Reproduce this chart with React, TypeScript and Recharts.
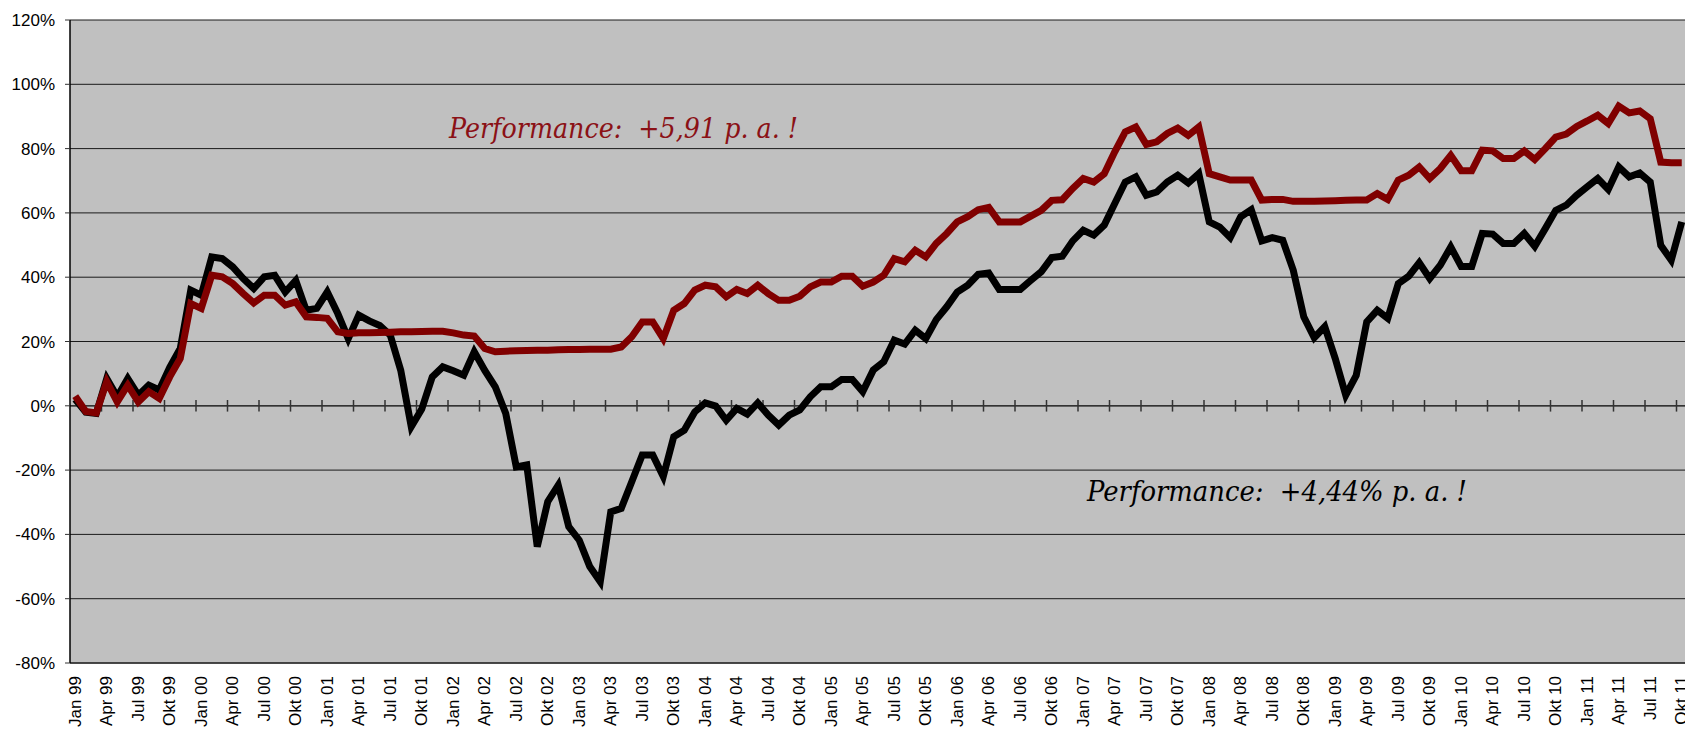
import { LineChart, Line, XAxis, YAxis, CartesianGrid, ReferenceLine } from "recharts";

// monthly performance in %, Jan 99 .. Okt 11
const blackSeries = [
  2, -2, -2.4, 8.5, 2.8, 8.5, 3.3, 6.4, 4.9, 12, 17.8, 36,
  34.4, 46.3, 45.8, 43.2, 39.6, 36.5, 40.1, 40.6, 35.4, 39, 29.7, 30.3,
  35.4, 28.7, 20.9, 28.2, 26.4, 25, 22, 11, -6.5, -1, 9, 12.1,
  10.9, 9.5, 16.8, 11, 5.9, -2.4, -19, -18.4, -43.8, -29.8, -24.7, -37.6,
  -41.8, -50, -54.7, -33, -31.9, -23.6, -15.3, -15.3, -22, -9.6, -7.6, -1.9,
  0.9, -0.1, -4.5, -0.8, -2.6, 0.9, -2.9, -6, -2.9, -1.3, 2.8, 5.9,
  5.9, 8.2, 8.2, 4.4, 11.1, 13.7, 20.4, 19.2, 23.5, 20.9, 26.8, 30.8,
  35.4, 37.5, 40.9, 41.3, 36.2, 36.2, 36.2, 39, 41.7, 46.1, 46.5, 51.3,
  54.6, 53.1, 56.2, 62.9, 69.6, 71.2, 65.5, 66.5, 69.6, 71.7, 69.3, 72.2,
  57.2, 55.6, 52.3, 58.8, 61, 51.3, 52.3, 51.5, 42.2, 27.7, 21.2, 24.6,
  14.7, 3.3, 9.5, 26.1, 29.7, 27.2, 38, 40.3, 44.5, 39.6, 43.7, 49.4,
  43.3, 43.3, 53.6, 53.4, 50.5, 50.5, 53.6, 49.6, 55.1, 60.8, 62.4, 65.5,
  68.1, 70.7, 67.3, 74.3, 71.2, 72.4, 69.6, 49.9, 45.3, 57.2,
];

const redSeries = [
  3, -1.8, -2.2, 7.5, 1.2, 6.4, 1.2, 4.4, 2.3, 9, 14.7, 31.8,
  30.3, 40.6, 40.1, 38, 34.9, 32, 34.4, 34.4, 31.3, 32.3, 27.7, 27.5,
  27.2, 23, 22.5, 22.7, 22.7, 22.8, 22.9, 23, 23, 23.1, 23.2, 23.2,
  22.7, 22, 21.7, 17.8, 16.8, 17, 17.1, 17.2, 17.3, 17.3, 17.4, 17.5,
  17.5, 17.6, 17.6, 17.6, 18.3, 21.5, 26.1, 26.1, 20.9, 29.7, 31.8, 36,
  37.5, 37, 33.9, 36.2, 34.9, 37.5, 34.9, 32.8, 32.8, 34.1, 37, 38.5,
  38.5, 40.3, 40.3, 37.2, 38.5, 40.6, 45.8, 44.8, 48.4, 46.3, 50.5, 53.6,
  57.2, 58.8, 61, 61.7, 57.2, 57.2, 57.2, 59, 60.8, 63.9, 64.1, 67.6,
  70.7, 69.6, 72.2, 79, 85.2, 86.7, 81.3, 82.1, 84.7, 86.4, 84.1, 86.7,
  72.2, 71.2, 70.2, 70.2, 70.2, 64, 64.2, 64.2, 63.6, 63.6, 63.6, 63.7,
  63.8, 63.9, 64, 64, 66, 64.2, 70.2, 71.7, 74.3, 70.7, 73.8, 77.9,
  73.1, 73.1, 79.5, 79.3, 76.9, 76.9, 79.3, 76.6, 80, 83.6, 84.5, 86.9,
  88.6, 90.4, 87.8, 93.2, 91.1, 91.7, 89.3, 75.8, 75.6, 75.6,
];

const monthNames = ["Jan", "Feb", "Mrz", "Apr", "Mai", "Jun", "Jul", "Aug", "Sep", "Okt", "Nov", "Dez"];
const years = ["99", "00", "01", "02", "03", "04", "05", "06", "07", "08", "09", "10", "11"];

const yTicks = [-80, -60, -40, -20, 0, 20, 40, 60, 80, 100, 120];

const labels: string[] = [];
for (const y of years) for (const m of monthNames) labels.push(`${m} ${y}`);

const data = blackSeries.map((v, i) => ({ i, label: labels[i], black: v, red: redSeries[i] }));

const xTicks = data.filter((d) => d.i % 3 === 0).map((d) => d.i);
// tick marks on the 0% axis sit between quarters
const quarterBounds = xTicks.slice(1).map((t) => t - 0.5);

function MonthTick({ x, y, payload }: any) {
  return (
    <text
      x={x}
      y={y}
      transform={`rotate(-90, ${x}, ${y})`}
      textAnchor="end"
      dominantBaseline="central"
      fontSize={17}
      fontFamily="Liberation Sans, Arial, sans-serif"
      fill="#000"
    >
      {labels[payload.value]}
    </text>
  );
}

export default function App() {
  return (
    <div style={{ position: "absolute", left: 0, top: 0, width: 1685, height: 733, overflow: "hidden", background: "#fff" }}>
      <LineChart width={1687} height={733} data={data} margin={{ top: 20, right: 0, bottom: 0, left: 0 }}>
        <CartesianGrid vertical={false} fill="#C0C0C0" stroke="#1a1a1a" strokeWidth={1} />
        <XAxis
          type="number"
          dataKey="i"
          domain={[-0.5, 153.5]}
          ticks={xTicks}
          interval={0}
          height={70}
          tickSize={0}
          tickMargin={13}
          axisLine={{ stroke: "#333", strokeWidth: 1.5 }}
          tick={<MonthTick />}
        />
        <YAxis
          domain={[-80, 120]}
          ticks={yTicks}
          width={70}
          tickSize={5}
          tickMargin={10}
          tickFormatter={(v: number) => `${v}%`}
          axisLine={{ stroke: "#000", strokeWidth: 1.5 }}
          tickLine={{ stroke: "#333" }}
          tick={{ fill: "#000", fontSize: 17, fontFamily: "Liberation Sans, Arial, sans-serif" }}
        />
        <ReferenceLine y={0} stroke="#333" strokeWidth={1.5} />
        {quarterBounds.map((b) => (
          <ReferenceLine
            key={b}
            segment={[{ x: b, y: -1.8 }, { x: b, y: 1.8 }]}
            stroke="#333"
            strokeWidth={1.5}
          />
        ))}
        <Line
          type="linear"
          dataKey="black"
          stroke="#000"
          strokeWidth={7}
          dot={false}
          isAnimationActive={false}
        />
        <Line
          type="linear"
          dataKey="red"
          stroke="#800000"
          strokeWidth={7}
          dot={false}
          isAnimationActive={false}
        />
      </LineChart>
      <svg width={1685} height={733} style={{ position: "absolute", left: 0, top: 0, pointerEvents: "none" }}>
        <text
          x={449}
          y={138}
          fontSize={28}
          fontStyle="italic"
          fontFamily="DejaVu Serif, Liberation Serif, serif"
          fill="#8B1116"
          textLength={349}
          lengthAdjust="spacingAndGlyphs"
          style={{ whiteSpace: "pre" }}
        >
          {"Performance:  +5,91 p. a. !"}
        </text>
        <text
          x={1087}
          y={501}
          fontSize={28}
          fontStyle="italic"
          fontFamily="DejaVu Serif, Liberation Serif, serif"
          fill="#000"
          textLength={380}
          lengthAdjust="spacingAndGlyphs"
          style={{ whiteSpace: "pre" }}
        >
          {"Performance:  +4,44% p. a. !"}
        </text>
      </svg>
    </div>
  );
}
